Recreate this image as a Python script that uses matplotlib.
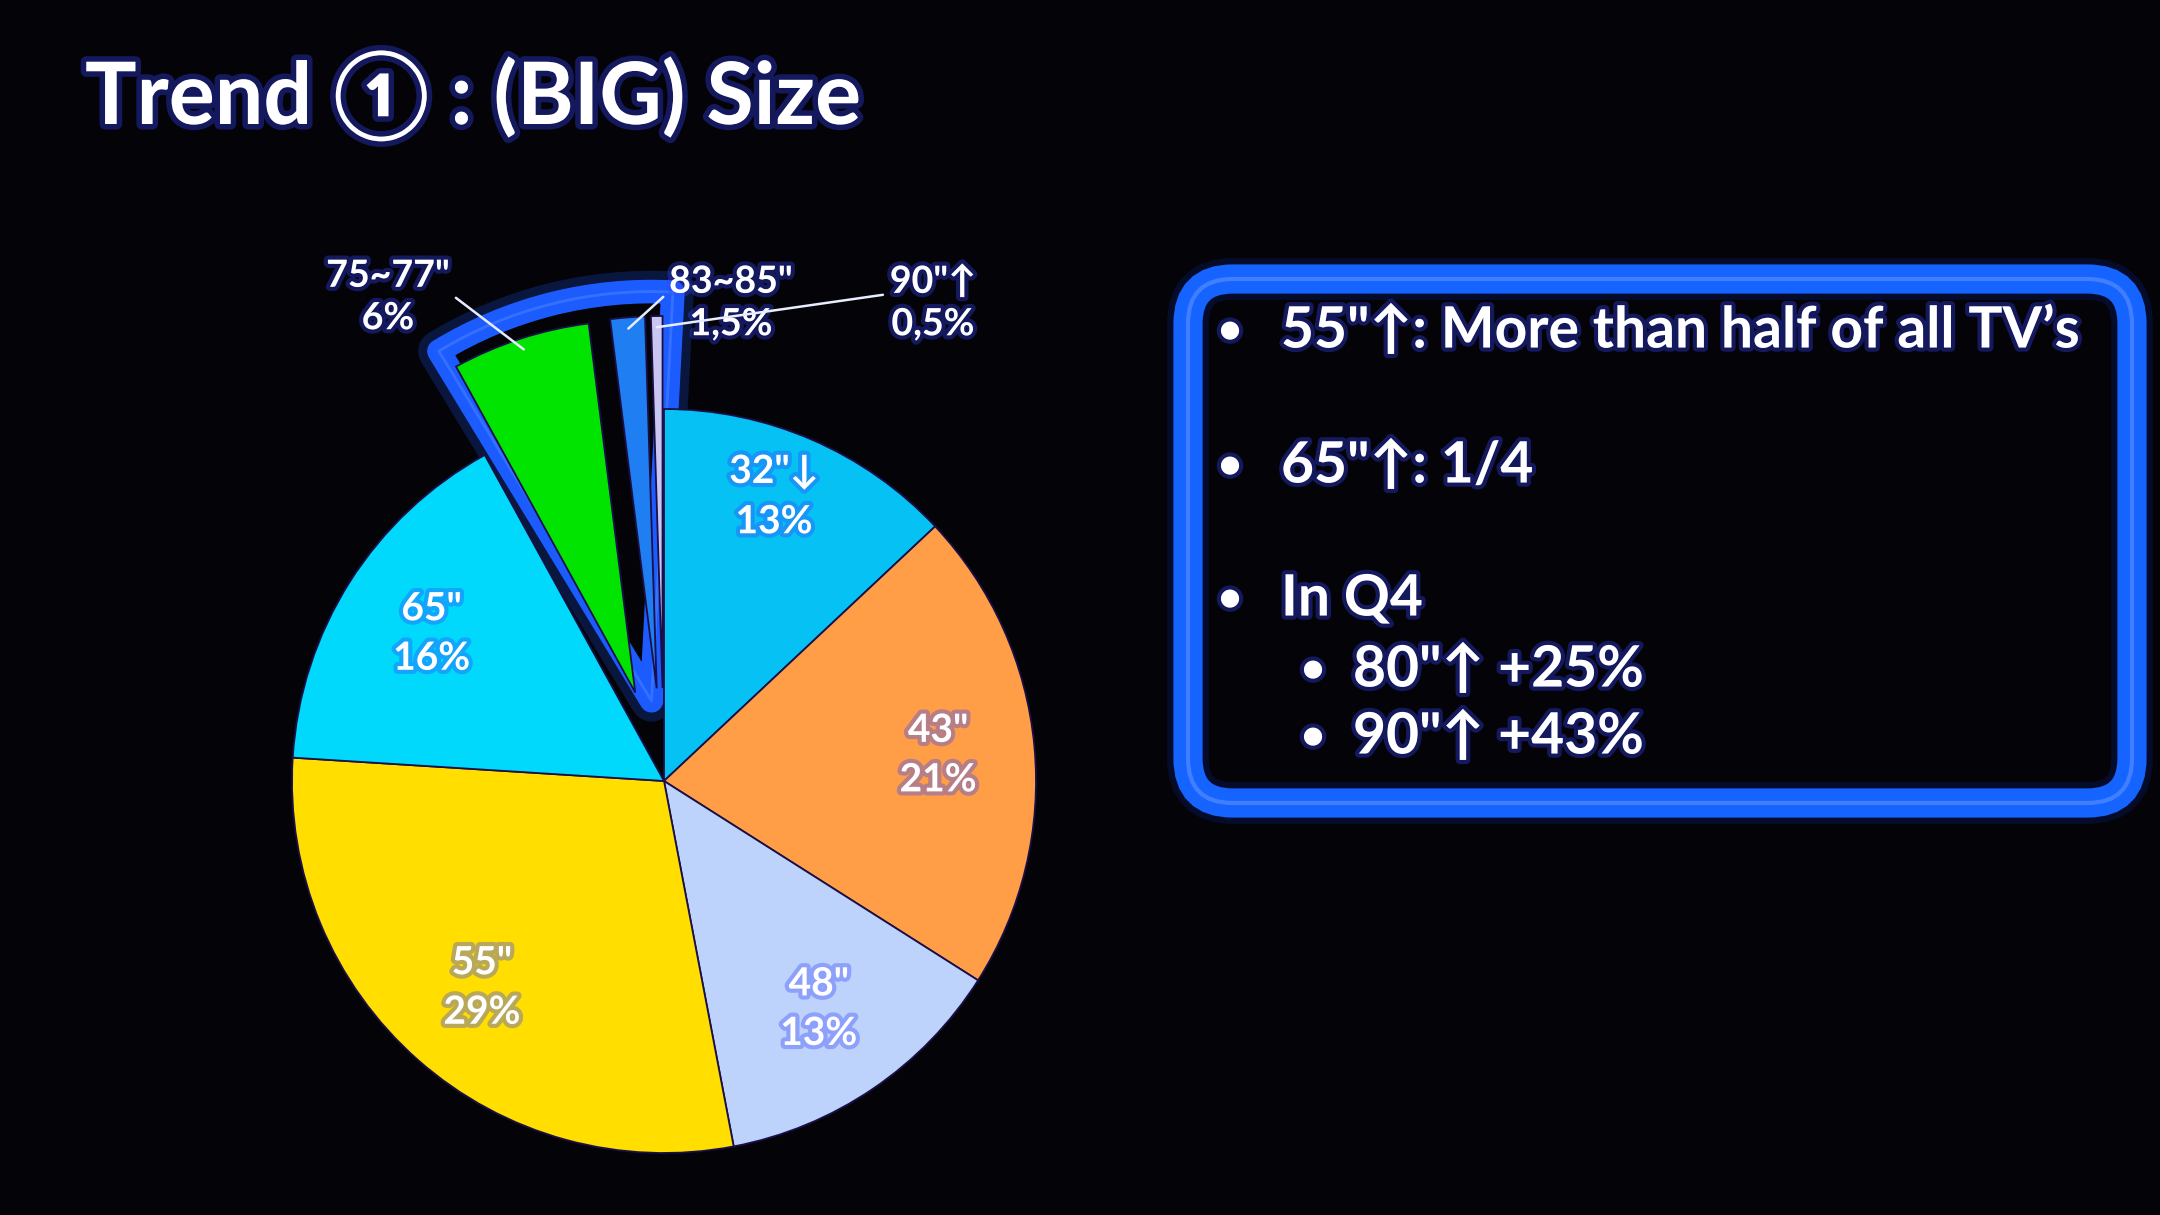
import numpy as np
import matplotlib.pyplot as plt
import matplotlib.patheffects as pe
from matplotlib.patches import Wedge, FancyBboxPatch

# pie data (clockwise from 12 o'clock)
sizes = ['32"↓', '43"', '48"', '55"', '65"', '75~77"', '83~85"', '90"↑']
shares = [13, 21, 13, 29, 16, 6, 1.5, 0.5]
colors = ['#06c2f4', '#ff9e46', '#bdd3fb', '#ffde00', '#00d9fb', '#00e400', '#1f7ef2', '#cac6f2']
explode = [0, 0, 0, 0, 0, 0.25, 0.25, 0.25]

title = 'Trend ① : (BIG) Size'
bullets = ['55"↑: More than half of all TV’s', '65"↑: 1/4', 'In Q4']
sub_bullets = ['80"↑ +25%', '90"↑ +43%']

BG = '#040307'
FONT = ['Lato', 'DejaVu Sans']
WEIGHT = 'bold'
W, H = 2160, 1215
CX, CY, R = 664, 781, 372  # pie centre / radius in pixels


def px(x, y):
    # image pixel -> data units of the pie axes
    return ((x - CX) / R, (CY - y) / R)


def pct(v):
    return f'{v:g}%'.replace('.', ',')


glow = [pe.withStroke(linewidth=6, foreground='#3444ff', alpha=0.35)]

fig = plt.figure(figsize=(W / 100, H / 100), dpi=100, facecolor=BG)
ax = fig.add_axes([0, 0, 1, 1])

n_big = 5
labels = [f'{s}\n{pct(v)}' for s, v in zip(sizes[:n_big], shares[:n_big])] + [''] * (len(sizes) - n_big)
wedges, texts = ax.pie(shares, colors=colors, explode=explode, startangle=90,
                       counterclock=False, labels=labels, labeldistance=0.74,
                       wedgeprops=dict(edgecolor='#1a0f48', linewidth=1.3),
                       textprops=dict(color='white', fontsize=28, fontweight=WEIGHT,
                                      family=FONT, linespacing=1.5))
for t in texts:
    t.set_ha('center')
    t.set_va('center')
    t.set_path_effects(glow)
# the 32" label sits a bit further out on the slide
texts[0].set_position(px(774, 497))

# blue highlight around the exploded slices
grp = wedges[n_big:]
th1 = min(w.theta1 for w in grp) - 3
th2 = max(w.theta2 for w in grp) + 2.5
ox = np.mean([w.center[0] for w in grp])
oy = np.mean([w.center[1] for w in grp]) - 0.03
for lw, a in [(30, 0.22), (17, 1.0)]:
    ax.add_patch(Wedge((ox, oy), 1.10, th1, th2, facecolor=BG, edgecolor='#1c5cff',
                       linewidth=lw, alpha=a, joinstyle='round', zorder=0.5))
ax.add_patch(Wedge((ox, oy), 1.10, th1, th2, facecolor='none', edgecolor='#4f86ff',
                   linewidth=2, alpha=0.5, joinstyle='round', zorder=0.6))

# outer labels with leader lines
outer_pos = [(388, 297), (731, 303), (933, 303)]
relpos = [(1.0, 0.55), (0.0, 0.65), (0.0, 0.62)]
for w, s, v, pos, rp in zip(grp, sizes[n_big:], shares[n_big:], outer_pos, relpos):
    thm = np.deg2rad((w.theta1 + w.theta2) / 2)
    tip = (w.center[0] + 0.97 * w.r * np.cos(thm), w.center[1] + 0.97 * w.r * np.sin(thm))
    ax.annotate(f'{s}\n{pct(v)}', xy=tip, xytext=px(*pos), ha='center', va='center',
                color='white', fontsize=27, fontweight=WEIGHT, family=FONT,
                linespacing=1.3, path_effects=glow,
                arrowprops=dict(arrowstyle='-', color='#e8ecff', lw=1.8,
                                shrinkA=3, shrinkB=0, relpos=rp))

ax.set_xlim(-CX / R, (W - CX) / R)
ax.set_ylim(-(H - CY) / R, CY / R)
ax.set_aspect('auto')
ax.axis('off')

# title
fig.text(85 / W, 1 - 124 / H, title, color='white', fontsize=62, fontweight=WEIGHT,
         family=FONT, va='baseline',
         path_effects=[pe.withStroke(linewidth=8, foreground='#3444ff', alpha=0.35)])

# text box
x0, y0 = px(1188, 803)
x1, y1 = px(2132, 279)
for lw, a, c in [(30, 0.15, '#1040ff'), (21, 1.0, '#1664ff'), (3, 0.35, '#8fb4ff')]:
    ax.add_patch(FancyBboxPatch((x0, y0), x1 - x0, y1 - y0,
                                boxstyle='round,pad=0,rounding_size=0.12',
                                facecolor='none', edgecolor=c, linewidth=lw, alpha=a, zorder=3))

line_y = [331, 466, 599]
for txt, yy in zip(bullets, line_y):
    ax.text(*px(1230, yy), '•', color='white', fontsize=30, fontweight=WEIGHT, family=FONT,
            ha='center', va='center', path_effects=glow, zorder=4)
    ax.text(*px(1281, yy), txt, color='white', fontsize=41, fontweight=WEIGHT, family=FONT,
            ha='left', va='center', path_effects=glow, zorder=4)

sub_y = [670, 737]
for txt, yy in zip(sub_bullets, sub_y):
    ax.text(*px(1313, yy), '•', color='white', fontsize=30, fontweight=WEIGHT, family=FONT,
            ha='center', va='center', path_effects=glow, zorder=4)
    ax.text(*px(1353, yy), txt, color='white', fontsize=41, fontweight=WEIGHT, family=FONT,
            ha='left', va='center', path_effects=glow, zorder=4)

fig.savefig('out.png', dpi=100, facecolor=BG)
